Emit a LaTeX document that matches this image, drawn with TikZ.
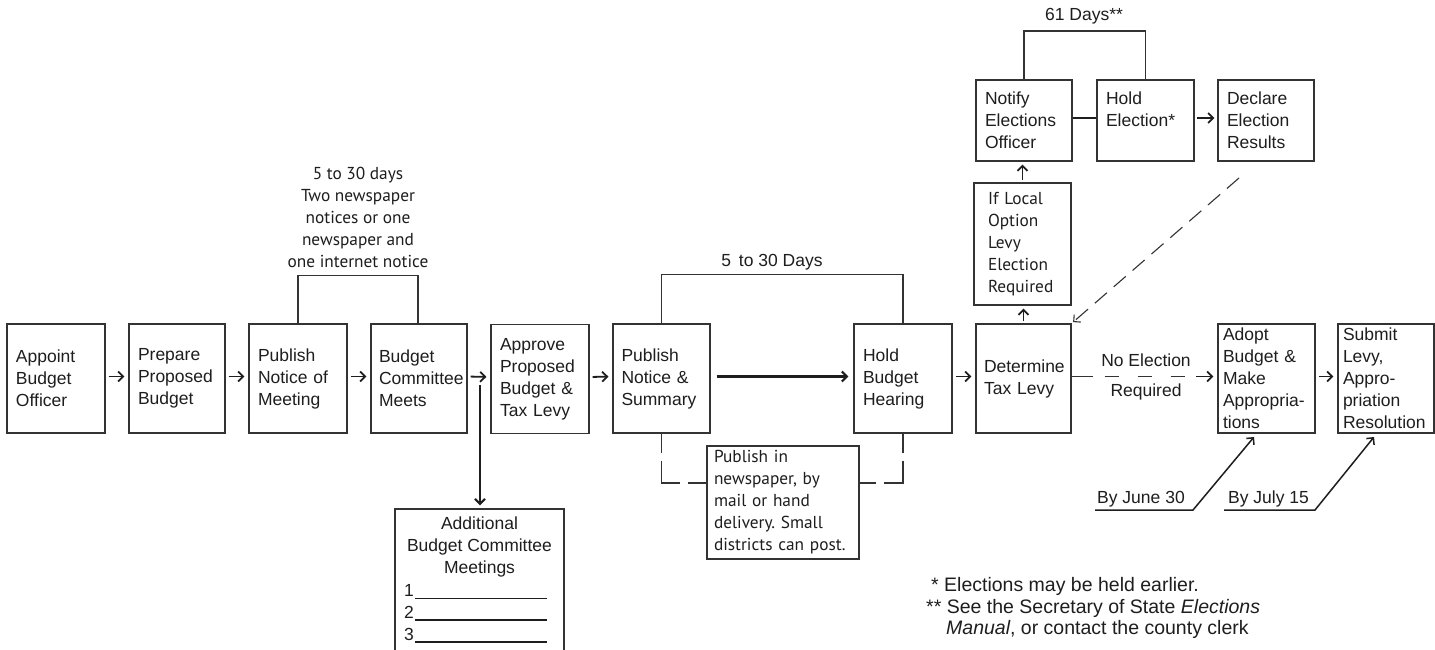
\documentclass[tikz,border=0pt]{standalone}
\usepackage{fontspec}
\setmainfont{Liberation Sans}
\newfontfamily\myriadlike{PT Sans}
\usetikzlibrary{arrows.meta}
\frenchspacing
\newcommand\bxf{\fontsize{17.5}{22}\selectfont}
\newcommand\ftf{\fontsize{19.5}{22}\selectfont}
\newcommand\myf{\myriadlike\fontsize{17.3}{22}\selectfont}
\definecolor{ink}{HTML}{1E1E1E}
\definecolor{edge}{HTML}{333333}
\begin{document}
\begin{tikzpicture}[x=1pt,y=-1pt,
  box/.style={draw=edge, line width=1.2pt, inner xsep=0pt, inner ysep=0pt, text=ink, font=\bxf, align=left},
  mbox/.style={box, font=\myf},
  lbl/.style={inner sep=0pt, text=ink, font=\bxf, align=center},
  mlbl/.style={inner sep=0pt, text=ink, font=\myf, align=center},
  tip/.style={-{Straight Barb[length=5pt,width=10pt]}},
  arr/.style={draw=ink, line width=1.8pt, tip, shorten <=3pt, shorten >=4pt},
  brk/.style={draw=edge, line width=1.2pt},
  dsh/.style={draw=edge, line width=1.2pt, dash pattern=on 19pt off 8pt on 41pt off 8pt on 40pt},
  dasharr/.style={draw=edge, line width=1.1pt, dash pattern=on 16pt off 9pt, -{Straight Barb[length=5pt,width=10pt]}},
]
\clip (0,0) rectangle (1435,649);
\fill[white] (0,0) rectangle (1435,649);

% main row
\node[box, minimum width=98pt, minimum height=109pt, text width=80pt] (appoint) at (56,378.5) {Appoint\\Budget\\Officer};
\node[box, minimum width=96pt, minimum height=109pt, text width=78pt] (prepare) at (177,378.5) {Prepare\\Proposed\\Budget};
\node[box, minimum width=98pt, minimum height=109pt, text width=80pt] (pubnotice) at (298,378.5) {Publish\\Notice of\\Meeting};
\node[box, minimum width=96pt, minimum height=109pt, text width=80pt] (bcm) at (419,378.5) {Budget\\Committee\\Meets};
\node[box, minimum width=98pt, minimum height=109pt, text width=80pt] (approve) at (540,379) {Approve\\Proposed\\Budget \&\\Tax Levy};
\node[box, minimum width=97pt, minimum height=109pt, text width=80pt] (pubsum) at (661.5,378.5) {Publish\\Notice \&\\Summary};
\node[box, minimum width=98pt, minimum height=109pt, text width=80pt] (hearing) at (903,378.5) {Hold\\Budget\\Hearing};
\node[box, minimum width=95pt, minimum height=109pt, text width=79pt] (determine) at (1023.5,378.5) {Determine\\Tax Levy};
\node[box, minimum width=97pt, minimum height=109pt, text width=87pt] (adopt) at (1266.5,378.5) {Adopt\\Budget \&\\Make\\Appropria-\\tions};
\node[box, minimum width=96pt, minimum height=109pt, text width=86pt] (submit) at (1386,378.5) {Submit\\Levy,\\Appro-\\priation\\Resolution};

% election row
\node[box, minimum width=96pt, minimum height=81pt, text width=78pt] (notify) at (1024,120.5) {Notify\\Elections\\Officer};
\node[box, minimum width=97pt, minimum height=81pt, text width=79pt] (holdel) at (1145.5,120.5) {Hold\\Election*\\\mbox{}};
\node[box, minimum width=96pt, minimum height=81pt, text width=78pt] (declare) at (1266,120.5) {Declare\\Election\\Results};
\node[mbox, minimum width=97pt, minimum height=122pt, text width=69pt] (iflocal) at (1022.5,244) {If Local\\Option\\Levy\\Election\\Required};

% publish-in note and additional meetings
\node[mbox, minimum width=152pt, minimum height=113pt, text width=138pt] (pubin) at (783,502.5) {Publish in\\newspaper, by\\mail or hand\\delivery. Small\\districts can post.};
\node[box, minimum width=169pt, minimum height=146pt] (addl) at (479.5,582) {};
\node[lbl, anchor=north] (addtxt) at (479.5,516.5) {Additional\\Budget Committee\\Meetings};
\node[lbl, anchor=base east] (n1) at (414,596) {1};
\node[lbl, anchor=base east] (n2) at (414,618) {2};
\node[lbl, anchor=base east] (n3) at (414,640) {3};
\draw[draw=ink, line width=0.9pt] (415,598) -- (547,598);
\draw[draw=ink, line width=1.6pt] (415,620) -- (547,620);
\draw[draw=ink, line width=1.6pt] (415,642) -- (547,642);

% bracket labels
\node[mlbl] (lbl530a) at (358,217) {5 to 30 days\\Two newspaper\\notices or one\\newspaper and\\one internet notice};
\node[lbl] (lbl530b) at (772,262) {5 \,to 30 Days};
\node[lbl] (lbl61) at (1084,16) {61 Days**};
\draw[brk] (pubnotice.north) -- ++(0,-48) -| ([xshift=-1pt]bcm.north);
\draw[brk] (pubsum.north) -- ++(0,-49) -| (hearing.north);
\draw[brk] (notify.north) -- (notify.north |- 0,31) -| (holdel.north);

% arrows along main row
\draw[arr] ([yshift=2pt]appoint.east) -- ([yshift=2pt]prepare.west);
\draw[arr] ([yshift=2pt]prepare.east) -- ([yshift=2pt]pubnotice.west);
\draw[arr] ([yshift=2pt]pubnotice.east) -- ([yshift=2pt]bcm.west);
\draw[arr] ([yshift=2pt]bcm.east) -- ([yshift=2pt]approve.west);
\draw[arr] ([yshift=2pt]approve.east) -- ([yshift=2pt]pubsum.west);
\draw[arr, line width=2.2pt, shorten <=6pt, shorten >=5pt] ([yshift=2pt]pubsum.east) -- ([yshift=2pt]hearing.west);
\draw[arr] ([yshift=2pt]hearing.east) -- ([yshift=2pt]determine.west);
\draw[arr] ([yshift=2pt]adopt.east) -- ([yshift=2pt]submit.west);

% down to additional meetings
\coordinate (dropstart) at (480,385);
\draw[arr, line width=2.2pt, shorten <=0pt, shorten >=3pt] (dropstart) -- (dropstart |- addl.north);

% no election required
\coordinate (noel) at (1192,376.5);
\draw[draw=edge, line width=1.2pt, dash pattern=on 21pt off 12pt on 14pt off 19pt on 14pt off 19pt on 14pt off 30pt] ([yshift=2pt]determine.east) -- (noel);
\draw[arr, shorten <=4pt] (noel) -- ([yshift=2pt]adopt.west);
\node[lbl] (noeltxt) at (1146,360) {No Election};
\node[lbl] (reqtxt) at (1146,392) {Required};

% election path
\draw[arr, shorten <=2pt, shorten >=3pt] (determine.north) -- (determine.north |- iflocal.south);
\draw[arr, shorten <=2pt, shorten >=3pt] (iflocal.north) -- (iflocal.north |- notify.south);
\draw[draw=ink, line width=2.2pt] ([yshift=2.5pt]notify.east) -- ([yshift=2.5pt]holdel.west);
\draw[arr, shorten <=2pt, shorten >=3pt] ([yshift=2.5pt]holdel.east) -- ([yshift=2.5pt]declare.west);
\coordinate (retstart) at (1239,178);
\draw[dasharr, shorten >=2pt] (retstart) -- (determine.north east);

% publish-in dashed connectors
\draw[dsh] (pubsum.south) |- ([yshift=19.5pt]pubin.west);
\draw[dsh] (hearing.south) |- ([yshift=19.5pt]pubin.east);

% deadlines
\node[lbl, anchor=base west] (june) at (1097,503) {By June 30};
\node[lbl, anchor=base west] (july) at (1228,503) {By July 15};
\coordinate (j0) at (1095,510);
\coordinate (j1) at (1193,510);
\coordinate (j2) at (1254,437);
\coordinate (k0) at (1224,510);
\coordinate (k1) at (1315,510);
\coordinate (k2) at (1374,437);
\draw[draw=ink, line width=1.5pt, tip] (j0) -- (j1) -- (j2);
\draw[draw=ink, line width=1.5pt, tip] (k0) -- (k1) -- (k2);

% footnotes
\node[lbl, font=\ftf, anchor=base west] (fn1) at (931,591) {* Elections may be held earlier.};
\node[lbl, font=\ftf, anchor=base west] (fn2) at (926,613) {** See the Secretary of State \textit{Elections}};
\node[lbl, font=\ftf, anchor=base west] (fn3) at (946,634) {\textit{Manual}, or contact the county clerk};
\end{tikzpicture}
\end{document}
